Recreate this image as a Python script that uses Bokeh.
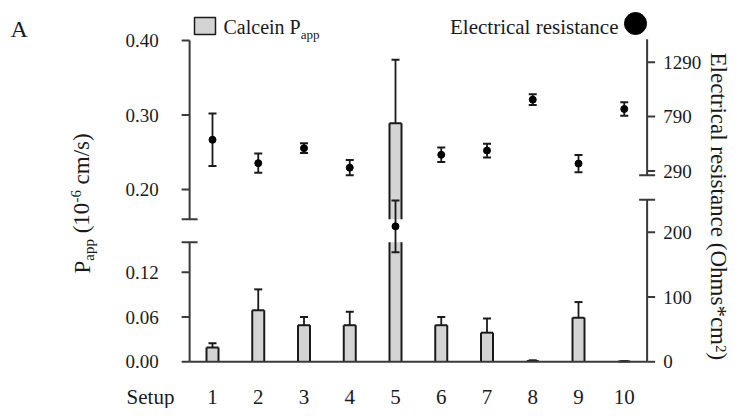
import numpy as np
from bokeh.plotting import figure
from bokeh.models import Range1d, LabelSet, ColumnDataSource
from bokeh.core.properties import value
from bokeh.embed import file_html
from bokeh.resources import INLINE

# ---------------- data ----------------
setups = [1, 2, 3, 4, 5, 6, 7, 8, 9, 10]
setup_labels = [str(s) for s in setups]
calcein_papp = [0.019, 0.069, 0.049, 0.049, 0.289, 0.049, 0.039, 0.001, 0.059, 0.0005]
calcein_err = [0.006, 0.028, 0.011, 0.018, 0.085, 0.011, 0.019, 0.001, 0.021, 0.0003]
resistance = [577, 362, 500, 321, 209, 439, 478, 946, 358, 860]
resistance_err = [242, 89, 45, 70, 40, 66, 63, 50, 80, 62]
papp_ticks_low = [0.00, 0.06, 0.12]
papp_ticks_high = [0.20, 0.30, 0.40]
res_ticks_low = [0, 100, 200]
res_ticks_high = [290, 790, 1290]
papp_break, papp_top = 0.16, 0.40
res_break, res_top = 250, 1500

# ---------------- layout / style ----------------
W, H = 733, 408
FONT = "Liberation Serif"
INK = "#1a1a1a"
AXIS = "#3a3a3a"
BAR = "#d4d4d4"


def yrange(v1, px1, v2, px2):
    s = (px1 - px2) / (v2 - v1)
    return Range1d(v1 - (H - px1) / s, v1 + px1 / s)


def xrange_(v1, px1, v2, px2):
    s = (px2 - px1) / (v2 - v1)
    return Range1d(v1 - px1 / s, v1 + (W - px1) / s), s


cat_range, cat_px = xrange_(setups[0], 212.0, setups[-1], 623.75)

p = figure(width=W, height=H, x_range=Range1d(0, W), y_range=Range1d(H, 0),
           output_backend="svg", toolbar_location=None,
           x_axis_location=None, y_axis_location=None,
           min_border=0, min_border_left=0, min_border_right=0,
           min_border_top=0, min_border_bottom=0)
p.xgrid.visible = False
p.ygrid.visible = False
p.outline_line_color = None
p.background_fill_color = "white"
p.border_fill_color = "white"
p.extra_x_ranges = {"cat": cat_range}
p.extra_y_ranges = {
    "left_low": yrange(0.0, 361.3, 0.12, 271.7),
    "left_up": yrange(0.40, 40.0, 0.20, 189.0),
    "right_low": yrange(0, 361.3, 200, 231.7),
    "right_up": yrange(1290, 61.7, 290, 170.5),
}
kw_ll = dict(x_range_name="cat", y_range_name="left_low")
kw_lu = dict(x_range_name="cat", y_range_name="left_up")
kw_rl = dict(x_range_name="cat", y_range_name="right_low")
kw_ru = dict(x_range_name="cat", y_range_name="right_up")

x = np.array(setups, dtype=float)
v = np.array(calcein_papp)
e = np.array(calcein_err)
r = np.array(resistance, dtype=float)
re = np.array(resistance_err, dtype=float)

BW = 12 / cat_px
TICK = 8 / cat_px
CAP = 8 / cat_px
LX = setups[0] - 0.5
RX = setups[-1] + 0.5

# ---------------- bars (Calcein Papp) ----------------
low_top = np.minimum(v, papp_break)
brk = v > papp_break
whole = ~brk
xl, xr = x - BW / 2, x + BW / 2
edge = dict(line_color=INK, line_width=2)

p.vbar(x=x, bottom=0, top=low_top, width=BW, fill_color=BAR, line_color=None, **kw_ll)
p.segment(x0=np.r_[xl, xr], y0=np.zeros(2 * len(x)), x1=np.r_[xl, xr],
          y1=np.r_[low_top, low_top], **edge, **kw_ll)
p.segment(x0=xl[whole], y0=low_top[whole], x1=xr[whole], y1=low_top[whole], **edge, **kw_ll)

p.vbar(x=x[brk], bottom=papp_break, top=v[brk], width=BW, fill_color=BAR, line_color=None, **kw_lu)
p.segment(x0=np.r_[xl[brk], xr[brk]], y0=np.full(2 * brk.sum(), papp_break),
          x1=np.r_[xl[brk], xr[brk]], y1=np.r_[v[brk], v[brk]], **edge, **kw_lu)
p.segment(x0=xl[brk], y0=v[brk], x1=xr[brk], y1=v[brk], **edge, **kw_lu)

# error bars (upper only)
for mask, kw in ((whole, kw_ll), (brk, kw_lu)):
    p.segment(x0=x[mask], y0=v[mask], x1=x[mask], y1=v[mask] + e[mask],
              line_color=INK, line_width=1.8, **kw)
    p.scatter(x=x[mask], y=v[mask] + e[mask], marker="dash", size=8,
              line_color=INK, line_width=2, **kw)

# ---------------- electrical resistance points ----------------
up = r > res_break
lo = ~up
for mask, kw in ((up, kw_ru), (lo, kw_rl)):
    p.segment(x0=x[mask], y0=r[mask] - re[mask], x1=x[mask], y1=r[mask] + re[mask],
              line_color=INK, line_width=1.8, **kw)
    p.scatter(x=np.r_[x[mask], x[mask]], y=np.r_[r[mask] - re[mask], r[mask] + re[mask]],
              marker="dash", size=8, line_color=INK, line_width=2, **kw)
    p.scatter(x=x[mask], y=r[mask], marker="circle", size=7, fill_color="black",
              line_color="black", **kw)

# ---------------- broken axes ----------------
ax = dict(line_color=AXIS, line_width=2)
# left axis
p.segment(x0=[LX], y0=[0], x1=[LX], y1=[papp_break], **ax, **kw_ll)
p.segment(x0=[LX], y0=[papp_break], x1=[LX], y1=[papp_top], **ax, **kw_lu)
p.segment(x0=[LX - CAP], y0=[papp_break], x1=[LX + CAP], y1=[papp_break], **ax, **kw_ll)
p.segment(x0=[LX - CAP], y0=[papp_break], x1=[LX + CAP], y1=[papp_break], **ax, **kw_lu)
p.segment(x0=[LX - TICK] * 3, y0=papp_ticks_low, x1=[LX] * 3, y1=papp_ticks_low, **ax, **kw_ll)
p.segment(x0=[LX - TICK] * 3, y0=papp_ticks_high, x1=[LX] * 3, y1=papp_ticks_high, **ax, **kw_lu)
# right axis
p.segment(x0=[RX], y0=[0], x1=[RX], y1=[res_break], **ax, **kw_rl)
p.segment(x0=[RX], y0=[res_break], x1=[RX], y1=[res_top], **ax, **kw_ru)
p.segment(x0=[RX - CAP], y0=[res_break], x1=[RX + CAP], y1=[res_break], **ax, **kw_rl)
p.segment(x0=[RX - CAP], y0=[res_break], x1=[RX + CAP], y1=[res_break], **ax, **kw_ru)
p.segment(x0=[RX] * 3, y0=res_ticks_low, x1=[RX + TICK] * 3, y1=res_ticks_low, **ax, **kw_rl)
p.segment(x0=[RX] * 3, y0=res_ticks_high, x1=[RX + TICK] * 3, y1=res_ticks_high, **ax, **kw_ru)
# baseline
p.segment(x0=[LX], y0=[0], x1=[RX], y1=[0], **ax, **kw_ll)


# ---------------- texts (LabelSets) ----------------
def labelset(xs, ys, texts, size, align="left", baseline="alphabetic", xoff=0,
             angle=0.0, **kw):
    src = ColumnDataSource(dict(x=list(xs), y=list(ys), t=list(texts)))
    p.add_layout(LabelSet(x="x", y="y", text="t", source=src, x_offset=xoff,
                          angle=angle, text_align=align, text_baseline=baseline,
                          text_font=value(FONT), text_font_size=value(f"{size}px"),
                          text_color=INK, **kw))


labelset([LX] * 3, papp_ticks_low, [f"{t:.2f}" for t in papp_ticks_low], 19,
         "right", "middle", -31, **kw_ll)
labelset([LX] * 3, papp_ticks_high, [f"{t:.2f}" for t in papp_ticks_high], 19,
         "right", "middle", -31, **kw_lu)
labelset([RX] * 3, res_ticks_low, [str(t) for t in res_ticks_low], 19,
         "left", "middle", 16, **kw_rl)
labelset([RX] * 3, res_ticks_high, [str(t) for t in res_ticks_high], 19,
         "left", "middle", 16, **kw_ru)
labelset(setups, [403] * len(setups), setup_labels, 21, "center", x_range_name="cat")


def lab(xp, yp, txt, size, align="left", angle=0.0):
    labelset([xp], [yp], [txt], size, align, "alphabetic", 0, angle)


lab(150, 403, "Setup", 21, align="center")
lab(10, 36, "A", 24)

# legend: Calcein Papp
p.quad(left=[194], right=[215], top=[17], bottom=[34], fill_color=BAR,
       line_color=INK, line_width=1.5)
lab(223, 33, "Calcein P", 20)
lab(300.2, 38, "app", 13)

# legend: Electrical resistance
lab(618, 33, "Electrical resistance", 21, align="right")
p.scatter(x=[635], y=[23], marker="circle", size=22, fill_color="black", line_color="black")

# left axis title (bottom-to-top)
A90 = np.pi / 2
lab(89, 273.0, "P", 23, angle=A90)
lab(94, 260.2, "app", 15, angle=A90)
lab(89, 232.8, "(10", 23, angle=A90)
lab(81, 202.1, "-6", 15, angle=A90)
lab(89, 183.9, "cm/s)", 23, angle=A90)

# right axis title (top-to-bottom)
lab(710, 52.0, "Electrical resistance (Ohms*cm", 23, angle=-A90)
lab(715, 344.5, "2", 15, angle=-A90)
lab(710, 352.0, ")", 23, angle=-A90)

open("out.html", "w").write(file_html(p, INLINE))
